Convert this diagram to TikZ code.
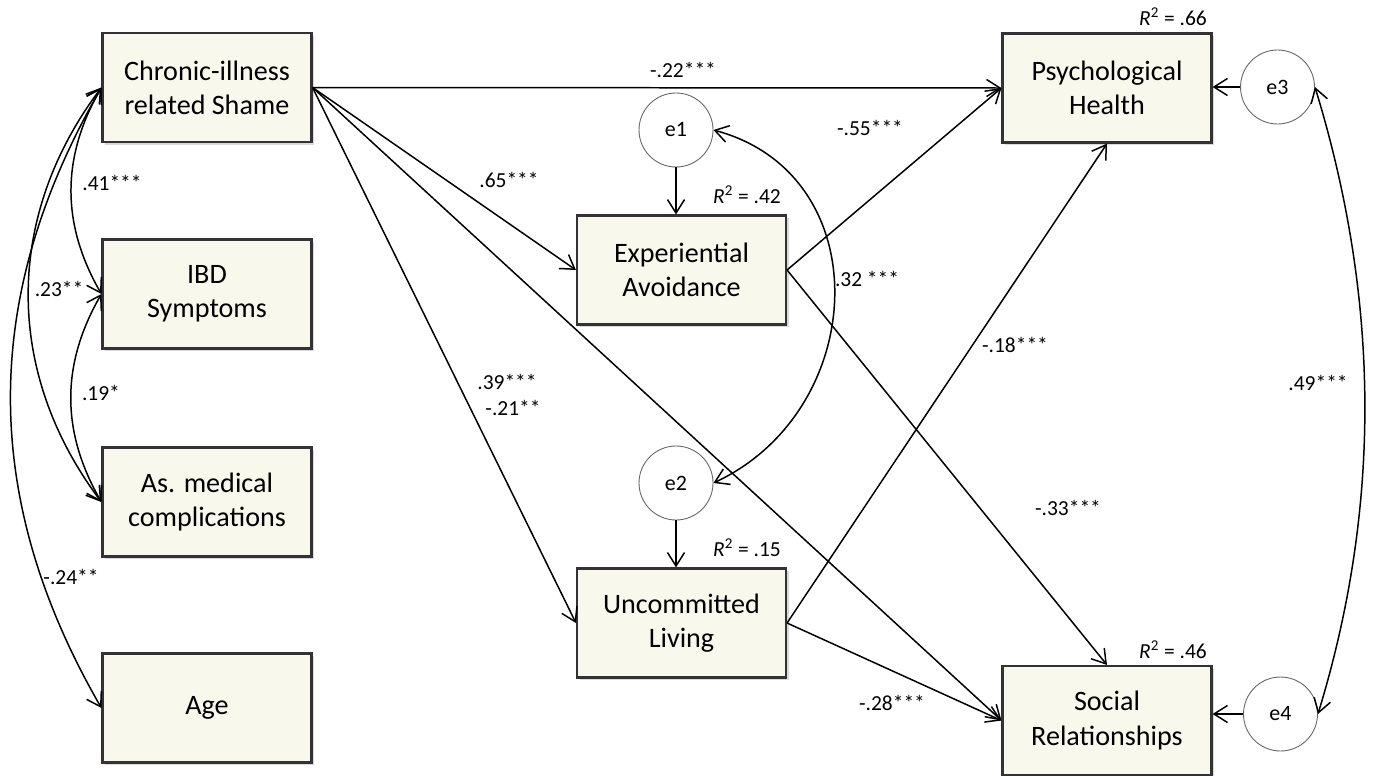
\documentclass[tikz,border=0pt]{standalone}
\usepackage{fontspec}
\setmainfont{Carlito}
\usepackage{xcolor}
\usepackage{tikz}
\usetikzlibrary{arrows.meta,shadows}
\definecolor{cream}{RGB}{249,248,237}
\newcommand\Rsq[1]{\textit{R}\textsuperscript{2} = #1}
\tikzset{
  var/.style={draw=black!80, line width=1.2pt, fill=cream, minimum width=4.18cm,
    minimum height=2.18cm, align=center, font=\fontsize{16}{19.5}\selectfont,
    drop shadow={shadow xshift=0.05cm, shadow yshift=-0.05cm, opacity=0.3}},
  err/.style={circle, draw=black!60, line width=0.5pt, fill=white, minimum size=1.48cm,
    inner sep=0pt, font=\fontsize{12.5}{15}\selectfont},
  lab/.style={inner sep=0pt, font=\fontsize{12.2}{14}\selectfont},
  eff/.style={-{Straight Barb[length=0.27cm,width=0.34cm]}, line width=0.85pt},
  cov/.style={{Straight Barb[length=0.27cm,width=0.34cm]}-{Straight Barb[length=0.27cm,width=0.34cm]}, line width=0.85pt}
}

\begin{document}
\begin{tikzpicture}
    \useasboundingbox (0,0) rectangle (27.46,-15.5);

    \node[var] (Shame) at (4.14, -1.75) {Chronic-illness\\related Shame};
    \node[var] (IBD) at (4.14, -5.88) {IBD\\Symptoms};
    \node[var] (Comp) at (4.14, -10.04) {As. medical\\complications};
    \node[var] (Age) at (4.14, -14.16) {Age};

    \node[var] (EA) at (13.63, -5.40) {Experiential\\Avoidance};
    \node[var] (UL) at (13.63, -12.46) {Uncommitted\\Living};

    \node[var] (PH) at (22.14, -1.76) {Psychological\\Health};
    \node[var] (SR) at (22.14, -14.41) {Social\\Relationships};

    \node[err] (E1) at (13.52, -2.60) {e1};
    \node[err] (E2) at (13.52, -9.66) {e2};
    \node[err] (E3) at (25.55, -1.74) {e3};
    \node[err] (E4) at (25.61, -14.28) {e4};

    \node[lab] (R1) at (14.94, -3.90) {\Rsq{.42}};
    \node[lab] (R2) at (14.94, -10.96) {\Rsq{.15}};
    \node[lab] (R3) at (23.46, -0.34) {\Rsq{.66}};
    \node[lab] (R4) at (23.46, -13.00) {\Rsq{.46}};

    \draw[eff] (Shame.east) -- (PH.west);
    \draw[eff] (Shame.east) -- (EA.west);
    \draw[eff] (Shame.east) -- (UL.west);
    \draw[eff] (Shame.east) -- (SR.west);
    \draw[eff] (EA.east) -- (PH.west);
    \draw[eff] (EA.east) -- (SR.north);
    \draw[eff] (UL.east) -- (PH.south);
    \draw[eff] (UL.east) -- (SR.west);

    \draw[eff] (E1) -- (E1 |- EA.north);
    \draw[eff] (E2) -- (E2 |- UL.north);
    \draw[eff] (E3) -- (E3 -| PH.east);
    \draw[eff] (E4) -- (E4 -| SR.east);

    \draw[cov] (Shame.west) to[out=240, in=120] (IBD.west);
    \draw[cov] (Shame.west) to[out=233, in=127] (Comp.west);
    \draw[cov] (IBD.west) to[out=240, in=120] (Comp.west);
    \draw[cov] (Shame.west) to[out=240, in=120] (Age.west);
    \draw[cov] (E1.east) to[out=-15, in=25, looseness=1.25] (E2.east);
    \draw[cov] (E3.east) .. controls +(-73:4.4) and +(73:4.4) .. (E4.east);

    \node[lab] (L1) at (13.66, -1.40) {-.22***};
    \node[lab] (L2) at (10.18, -3.60) {.65***};
    \node[lab] (L3) at (10.14, -7.64) {.39***};
    \node[lab] (L4) at (10.26, -8.16) {-.21**};
    \node[lab] (L5) at (17.40, -2.56) {-.55***};
    \node[lab] (L6) at (17.34, -5.58) {.32 ***};
    \node[lab] (L7) at (20.30, -6.90) {-.18***};
    \node[lab] (L8) at (21.36, -10.16) {-.33***};
    \node[lab] (L9) at (17.84, -14.06) {-.28***};
    \node[lab] (L10) at (26.36, -7.66) {.49***};
    \node[lab] (L11) at (2.24, -3.66) {.41***};
    \node[lab] (L12) at (1.18, -5.78) {.23**};
    \node[lab] (L13) at (2.02, -7.86) {.19*};
    \node[lab] (L14) at (1.42, -11.54) {-.24**};
\end{tikzpicture}
\end{document}
